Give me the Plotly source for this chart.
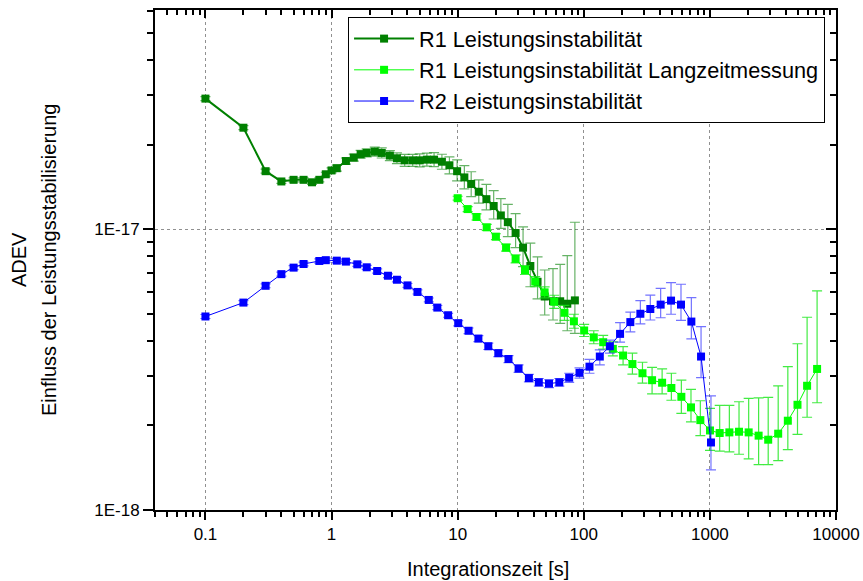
import plotly.graph_objects as go

# ---------------- data ----------------
r1_tau = [0.1, 0.2, 0.3, 0.4, 0.5, 0.6, 0.7, 0.8, 0.9, 1.0,
          1.1, 1.3, 1.5, 1.7, 1.9, 2.2, 2.5, 2.9, 3.3, 3.8,
          4.4, 5.0, 5.7, 6.5, 7.5, 8.6, 9.9, 11.3, 12.8, 14.7,
          16.9, 19.3, 22, 25, 28.8, 33, 37.7, 43, 49, 57,
          65, 74, 85]
r1_adev = [2.92e-17, 2.30e-17, 1.61e-17, 1.48e-17, 1.50e-17, 1.50e-17, 1.47e-17, 1.50e-17, 1.57e-17, 1.62e-17,
           1.65e-17, 1.75e-17, 1.80e-17, 1.85e-17, 1.87e-17, 1.89e-17, 1.87e-17, 1.83e-17, 1.79e-17, 1.76e-17,
           1.76e-17, 1.76e-17, 1.77e-17, 1.77e-17, 1.74e-17, 1.69e-17, 1.61e-17, 1.53e-17, 1.45e-17, 1.36e-17,
           1.28e-17, 1.21e-17, 1.12e-17, 1.06e-17, 9.7e-18, 8.6e-18, 7.4e-18, 6.5e-18, 5.76e-18, 5.54e-18,
           5.54e-18, 5.43e-18, 5.58e-18]
r1_err_plus = [0.48e-18, 0.38e-18, 0.27e-18, 0.24e-18, 0.25e-18, 0.25e-18, 0.24e-18, 0.25e-18, 0.26e-18, 0.34e-18,
               0.41e-18, 0.44e-18, 0.52e-18, 0.61e-18, 0.62e-18, 0.71e-18, 0.79e-18, 0.77e-18, 0.82e-18, 0.89e-18,
               0.89e-18, 0.96e-18, 0.97e-18, 1.04e-18, 1.10e-18, 1.22e-18, 1.56e-18, 1.55e-18, 1.53e-18, 1.40e-18,
               1.66e-18, 1.62e-18, 1.65e-18, 1.67e-18, 1.67e-18, 1.59e-18, 1.52e-18, 1.47e-18, 1.40e-18, 1.70e-18,
               1.96e-18, 2.62e-18, 5.01e-18]
r1_err_minus = [0.47e-18, 0.37e-18, 0.26e-18, 0.24e-18, 0.24e-18, 0.24e-18, 0.24e-18, 0.24e-18, 0.25e-18, 0.33e-18,
                0.40e-18, 0.43e-18, 0.50e-18, 0.59e-18, 0.60e-18, 0.68e-18, 0.76e-18, 0.74e-18, 0.78e-18, 0.85e-18,
                0.85e-18, 0.91e-18, 0.92e-18, 0.98e-18, 1.04e-18, 1.14e-18, 1.24e-18, 1.38e-18, 1.44e-18, 1.20e-18,
                1.08e-18, 1.22e-18, 1.12e-18, 1.19e-18, 1.10e-18, 1.24e-18, 1.16e-18, 0.85e-18, 0.81e-18, 0.79e-18,
                0.92e-18, 1.08e-18, 1.32e-18]

lz_tau = [10.0, 12.0, 14.1, 17.0, 20.1, 24.2, 28.8, 34.2, 41.2, 48.9,
          58.3, 70.3, 83.5, 100.7, 120, 142.5, 170, 205, 243, 292,
          348, 418, 495, 594, 708, 840, 1002, 1196, 1427, 1702,
          2030, 2434, 2900, 3480, 4150, 4950, 5900, 7080]
lz_adev = [12.9e-18, 11.8e-18, 11.06e-18, 10.16e-18, 9.41e-18, 8.60e-18, 7.84e-18, 7.16e-18, 6.51e-18, 5.96e-18,
           5.52e-18, 5.04e-18, 4.70e-18, 4.36e-18, 4.12e-18, 3.96e-18, 3.75e-18, 3.55e-18, 3.31e-18, 3.07e-18,
           2.90e-18, 2.84e-18, 2.72e-18, 2.53e-18, 2.32e-18, 2.09e-18, 1.92e-18, 1.88e-18, 1.89e-18, 1.90e-18,
           1.89e-18, 1.84e-18, 1.78e-18, 1.87e-18, 2.08e-18, 2.37e-18, 2.77e-18, 3.18e-18]
lz_err_plus = [0.21e-18, 0.24e-18, 0.28e-18, 0.25e-18, 0.23e-18, 0.25e-18, 0.26e-18, 0.27e-18, 0.27e-18, 0.27e-18,
               0.30e-18, 0.32e-18, 0.28e-18, 0.22e-18, 0.23e-18, 0.23e-18, 0.22e-18, 0.27e-18, 0.31e-18, 0.29e-18,
               0.32e-18, 0.34e-18, 0.35e-18, 0.37e-18, 0.37e-18, 0.36e-18, 0.38e-18, 0.48e-18, 0.47e-18, 0.53e-18,
               0.61e-18, 0.67e-18, 0.74e-18, 0.90e-18, 1.16e-18, 1.54e-18, 2.09e-18, 2.85e-18]
lz_err_minus = [0.21e-18, 0.24e-18, 0.27e-18, 0.25e-18, 0.23e-18, 0.24e-18, 0.25e-18, 0.26e-18, 0.26e-18, 0.26e-18,
                0.29e-18, 0.30e-18, 0.26e-18, 0.21e-18, 0.21e-18, 0.22e-18, 0.21e-18, 0.26e-18, 0.26e-18, 0.24e-18,
                0.31e-18, 0.25e-18, 0.26e-18, 0.32e-18, 0.26e-18, 0.25e-18, 0.29e-18, 0.26e-18, 0.28e-18, 0.32e-18,
                0.37e-18, 0.39e-18, 0.33e-18, 0.37e-18, 0.44e-18, 0.51e-18, 0.63e-18, 0.77e-18]

r2_tau = [0.1, 0.2, 0.3, 0.4, 0.5, 0.6, 0.8, 0.9, 1.1, 1.3,
          1.6, 1.9, 2.3, 2.8, 3.3, 4.0, 4.8, 5.9, 6.9, 8.4,
          10.1, 12.2, 14.6, 17.5, 21, 25.3, 30.4, 36.7, 44, 53,
          64, 76.6, 92.5, 111, 134, 161, 194, 234, 281, 337,
          407, 492, 590, 713, 851, 1020]
r2_adev = [4.89e-18, 5.48e-18, 6.29e-18, 6.92e-18, 7.30e-18, 7.52e-18, 7.71e-18, 7.76e-18, 7.73e-18, 7.67e-18,
           7.50e-18, 7.32e-18, 7.10e-18, 6.83e-18, 6.61e-18, 6.31e-18, 5.98e-18, 5.60e-18, 5.26e-18, 4.94e-18,
           4.63e-18, 4.35e-18, 4.08e-18, 3.83e-18, 3.62e-18, 3.45e-18, 3.19e-18, 2.95e-18, 2.85e-18, 2.82e-18,
           2.85e-18, 2.96e-18, 3.08e-18, 3.24e-18, 3.52e-18, 3.83e-18, 4.24e-18, 4.67e-18, 5.00e-18, 5.20e-18,
           5.39e-18, 5.57e-18, 5.39e-18, 4.69e-18, 3.52e-18, 1.74e-18]
r2_err_plus = [0.08e-18, 0.09e-18, 0.10e-18, 0.11e-18, 0.12e-18, 0.12e-18, 0.13e-18, 0.13e-18, 0.13e-18, 0.13e-18,
               0.12e-18, 0.12e-18, 0.12e-18, 0.11e-18, 0.11e-18, 0.10e-18, 0.10e-18, 0.09e-18, 0.09e-18, 0.08e-18,
               0.10e-18, 0.10e-18, 0.10e-18, 0.10e-18, 0.10e-18, 0.10e-18, 0.10e-18, 0.09e-18, 0.09e-18, 0.09e-18,
               0.09e-18, 0.11e-18, 0.13e-18, 0.20e-18, 0.20e-18, 0.20e-18, 0.41e-18, 0.40e-18, 0.57e-18, 0.63e-18,
               0.77e-18, 0.88e-18, 0.98e-18, 1.02e-18, 0.98e-18, 0.81e-18]
r2_err_minus = [0.08e-18, 0.09e-18, 0.10e-18, 0.11e-18, 0.12e-18, 0.12e-18, 0.13e-18, 0.13e-18, 0.13e-18, 0.13e-18,
                0.12e-18, 0.12e-18, 0.12e-18, 0.11e-18, 0.11e-18, 0.10e-18, 0.10e-18, 0.09e-18, 0.09e-18, 0.08e-18,
                0.10e-18, 0.10e-18, 0.10e-18, 0.10e-18, 0.10e-18, 0.10e-18, 0.10e-18, 0.09e-18, 0.09e-18, 0.09e-18,
                0.09e-18, 0.11e-18, 0.13e-18, 0.17e-18, 0.23e-18, 0.21e-18, 0.28e-18, 0.36e-18, 0.40e-18, 0.45e-18,
                0.55e-18, 0.59e-18, 0.65e-18, 0.62e-18, 0.56e-18, 0.35e-18]

x_tickvals = [0.1, 1, 10, 100, 1000, 10000]
x_ticktext = ["0.1", "1", "10", "100", "1000", "10000"]
y_tickvals = [1e-18, 1e-17]
y_ticktext = ["1E-18", "1E-17"]

names = ["R1 Leistungsinstabilität",
         "R1 Leistungsinstabilität Langzeitmessung",
         "R2 Leistungsinstabilität"]

# ---------------- figure ----------------
FONT = "Liberation Sans, Arial, sans-serif"
fig = go.Figure()

series = [
    (r1_tau, r1_adev, r1_err_plus, r1_err_minus, "rgb(0,128,0)", 2, "rgba(0,128,0,0.6)"),
    (lz_tau, lz_adev, lz_err_plus, lz_err_minus, "rgb(0,255,0)", 1, "rgba(20,230,20,0.8)"),
    (r2_tau, r2_adev, r2_err_plus, r2_err_minus, "rgb(0,0,255)", 1, "rgba(40,40,255,0.65)"),
]
for (tx, ty, ep, em, col, lw, ecol), nm in zip(series, names):
    fig.add_trace(go.Scatter(
        x=tx, y=ty, name=nm, mode="lines+markers",
        line=dict(color=col, width=lw),
        marker=dict(symbol="square", size=8, color=col, line=dict(width=0)),
        error_y=dict(type="data", symmetric=False, array=ep, arrayminus=em,
                     color=ecol, thickness=1.2, width=5),
    ))

# dummy traces so that mirrored (inside-tick) axes are drawn
fig.add_trace(go.Scatter(x=[], y=[], xaxis="x2", yaxis="y", showlegend=False, hoverinfo="skip"))
fig.add_trace(go.Scatter(x=[], y=[], xaxis="x", yaxis="y2", showlegend=False, hoverinfo="skip"))

xr = [-1.40, 4.0]
yr = [-18.0, -16.219]
x_minor = [m * 10.0 ** e for e in range(-2, 5) for m in range(2, 10)]
y_minor = [m * 10.0 ** e for e in range(-19, -15) for m in range(2, 10)]

fig.update_layout(
    width=863, height=581,
    margin=dict(l=155, r=27, t=10, b=71, autoexpand=False),
    paper_bgcolor="white", plot_bgcolor="white",
    font=dict(family=FONT, color="black", size=17),
    showlegend=True,
    legend=dict(x=0.2835, y=0.986, xanchor="left", yanchor="top",
                bgcolor="white", bordercolor="black", borderwidth=1,
                font=dict(family=FONT, size=21.7), itemwidth=60,
                tracegroupgap=0),
    xaxis=dict(type="log", range=xr, showline=True, linecolor="black", linewidth=2,
               mirror=True, ticks="outside", ticklen=8, tickwidth=1.5, tickcolor="black",
               tickmode="array", tickvals=x_tickvals, ticktext=x_ticktext,
               tickfont=dict(size=17), automargin=False,
               minor=dict(tickmode="array", tickvals=x_minor, ticks="outside",
                          ticklen=5, tickwidth=1.5, tickcolor="black", showgrid=False),
               showgrid=True, gridcolor="#909090", griddash="dot", gridwidth=1,
               zeroline=False),
    yaxis=dict(type="log", range=yr, showline=True, linecolor="black", linewidth=2,
               mirror=True, ticks="outside", ticklen=10, tickwidth=1.5, tickcolor="black",
               tickmode="array", tickvals=y_tickvals, ticktext=y_ticktext,
               tickfont=dict(size=17), automargin=False,
               minor=dict(tickmode="array", tickvals=y_minor, ticks="outside",
                          ticklen=6, tickwidth=1.5, tickcolor="black", showgrid=False),
               showgrid=True, gridcolor="#909090", griddash="dot", gridwidth=1,
               zeroline=False),
    xaxis2=dict(type="log", range=xr, overlaying="x", side="top", anchor="y",
                showline=False, ticks="inside", ticklen=8, tickwidth=1.5, tickcolor="black",
                tickmode="array", tickvals=x_tickvals, showticklabels=False, automargin=False,
                minor=dict(tickmode="array", tickvals=x_minor, ticks="inside",
                           ticklen=5, tickwidth=1.5, tickcolor="black", showgrid=False),
                showgrid=False, zeroline=False),
    yaxis2=dict(type="log", range=yr, overlaying="y", side="right", anchor="x",
                showline=False, ticks="inside", ticklen=10, tickwidth=1.5, tickcolor="black",
                tickmode="array", tickvals=y_tickvals, showticklabels=False, automargin=False,
                minor=dict(tickmode="array", tickvals=y_minor, ticks="inside",
                           ticklen=6, tickwidth=1.5, tickcolor="black", showgrid=False),
                showgrid=False, zeroline=False),
)

# x-axis title and two-line y-axis title (positioned as in the reference)
fig.add_annotation(text="Integrationszeit [s]", xref="paper", yref="paper", x=0.489, y=-0.118,
                   xanchor="center", yanchor="middle", showarrow=False,
                   font=dict(family=FONT, size=20))
fig.add_annotation(text="ADEV", xref="paper", yref="paper", x=-0.1997, y=0.5,
                   xanchor="center", yanchor="middle", textangle=-90, showarrow=False,
                   font=dict(family=FONT, size=20))
fig.add_annotation(text="Einfluss der Leistungsstabilisierung", xref="paper", yref="paper",
                   x=-0.1557, y=0.5, xanchor="center", yanchor="middle", textangle=-90,
                   showarrow=False, font=dict(family=FONT, size=20))

fig.write_html("out.html")
